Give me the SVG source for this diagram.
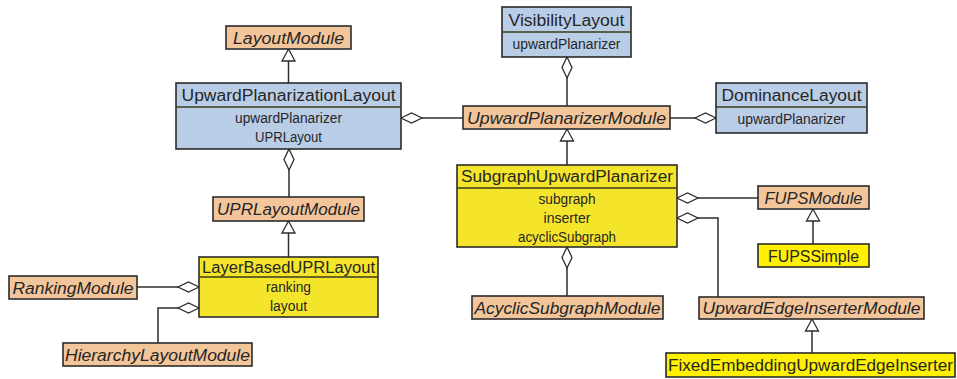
<svg xmlns="http://www.w3.org/2000/svg" width="957" height="379" viewBox="0 0 957 379">
  <defs>
    <style>
      .box { stroke: #2b2b2b; stroke-width: 1.6; }
      .mod { fill: #F3C59B; }
      .blue { fill: #B9CDE6; }
      .yel { fill: #F5E52A; }
      .yel2 { fill: #FFF100; }
      .div { stroke: #3a3a1a; stroke-width: 1.4; fill: none; }
      text { font-family: "Liberation Sans", Arial, sans-serif; fill: #262626; text-anchor: middle; dominant-baseline: central; }
      .t { font-size: 16px; }
      .i { font-size: 16px; font-style: italic; }
      .a { font-size: 14px; }
      .c { fill: none; stroke: #2e2e2e; stroke-width: 1.5; }
      .agg { marker-start: url(#diamond); }
      .gen { marker-end: url(#triangle); }
    </style>
    <!-- hollow diamond for aggregation, drawn at the owner end -->
    <marker id="diamond" markerUnits="userSpaceOnUse" viewBox="-1 -1 23 12" markerWidth="23" markerHeight="12" refX="0" refY="5" orient="auto" overflow="visible">
      <path d="M0,5 L10.5,0 L21,5 L10.5,10 Z" fill="#fff" stroke="#2e2e2e" stroke-width="1.3"/>
    </marker>
    <!-- hollow triangle for generalization, tip on the parent -->
    <marker id="triangle" markerUnits="userSpaceOnUse" viewBox="-1 -1 14 15" markerWidth="14" markerHeight="15" refX="12" refY="6.5" orient="auto" overflow="visible">
      <path d="M0,0 L12,6.5 L0,13 Z" fill="#fff" stroke="#2e2e2e" stroke-width="1.3"/>
    </marker>
  </defs>

  <g id="connectors">
    <!-- generalizations -->
    <path class="c gen" d="M288.5,83 V49"/>
    <path class="c gen" d="M288.5,257 V221"/>
    <path class="c gen" d="M567,165 V129"/>
    <path class="c gen" d="M813,244 V209"/>
    <path class="c gen" d="M812,353 V319"/>
    <!-- aggregations -->
    <path class="c agg" d="M289,149 V197"/>
    <path class="c agg" d="M401,118 H463"/>
    <path class="c agg" d="M567,57 V106"/>
    <path class="c agg" d="M716,118 H670"/>
    <path class="c agg" d="M567,247 V296"/>
    <path class="c agg" d="M677,198 H758"/>
    <path class="c agg" d="M677,218 H718 V297"/>
    <path class="c agg" d="M199,287 H137"/>
    <path class="c agg" d="M199,308 H158 V343"/>
  </g>

  <g id="LayoutModule">
    <rect class="box mod" x="226" y="26" width="125" height="23"/>
    <text class="i" x="288.5" y="38" textLength="111" lengthAdjust="spacingAndGlyphs">LayoutModule</text>
  </g>

  <g id="UpwardPlanarizationLayout">
    <rect class="box blue" x="176" y="83" width="225" height="66"/>
    <line class="div" x1="176" y1="107" x2="401" y2="107"/>
    <text class="t" x="288.5" y="95" textLength="214" lengthAdjust="spacingAndGlyphs">UpwardPlanarizationLayout</text>
    <text class="a" x="288.5" y="118" textLength="107" lengthAdjust="spacingAndGlyphs">upwardPlanarizer</text>
    <text class="a" x="288.5" y="137" textLength="67" lengthAdjust="spacingAndGlyphs">UPRLayout</text>
  </g>

  <g id="VisibilityLayout">
    <rect class="box blue" x="502" y="7" width="129" height="50"/>
    <line class="div" x1="502" y1="32" x2="631" y2="32"/>
    <text class="t" x="566.5" y="20" textLength="116" lengthAdjust="spacingAndGlyphs">VisibilityLayout</text>
    <text class="a" x="566.5" y="44" textLength="108" lengthAdjust="spacingAndGlyphs">upwardPlanarizer</text>
  </g>

  <g id="UpwardPlanarizerModule">
    <rect class="box mod" x="463" y="106" width="207" height="23"/>
    <text class="i" x="566.5" y="118" textLength="199" lengthAdjust="spacingAndGlyphs">UpwardPlanarizerModule</text>
  </g>

  <g id="DominanceLayout">
    <rect class="box blue" x="716" y="83" width="151" height="50"/>
    <line class="div" x1="716" y1="107" x2="867" y2="107"/>
    <text class="t" x="791.5" y="95" textLength="140" lengthAdjust="spacingAndGlyphs">DominanceLayout</text>
    <text class="a" x="791.5" y="119" textLength="108" lengthAdjust="spacingAndGlyphs">upwardPlanarizer</text>
  </g>

  <g id="UPRLayoutModule">
    <rect class="box mod" x="213" y="197" width="151" height="24"/>
    <text class="i" x="288.5" y="209.5" textLength="143" lengthAdjust="spacingAndGlyphs">UPRLayoutModule</text>
  </g>

  <g id="LayerBasedUPRLayout">
    <rect class="box yel" x="199" y="257" width="179" height="60"/>
    <line class="div" x1="199" y1="277" x2="378" y2="277"/>
    <text class="t" x="288.5" y="267" textLength="173" lengthAdjust="spacingAndGlyphs">LayerBasedUPRLayout</text>
    <text class="a" x="288.5" y="287" textLength="45" lengthAdjust="spacingAndGlyphs">ranking</text>
    <text class="a" x="288.5" y="306" textLength="37" lengthAdjust="spacingAndGlyphs">layout</text>
  </g>

  <g id="RankingModule">
    <rect class="box mod" x="9" y="276" width="128" height="23"/>
    <text class="i" x="73" y="288" textLength="121" lengthAdjust="spacingAndGlyphs">RankingModule</text>
  </g>

  <g id="HierarchyLayoutModule">
    <rect class="box mod" x="63" y="343" width="189" height="23"/>
    <text class="i" x="157.5" y="355" textLength="185" lengthAdjust="spacingAndGlyphs">HierarchyLayoutModule</text>
  </g>

  <g id="SubgraphUpwardPlanarizer">
    <rect class="box yel" x="457" y="165" width="220" height="82"/>
    <line class="div" x1="457" y1="188" x2="677" y2="188"/>
    <text class="t" x="567" y="176.5" textLength="212" lengthAdjust="spacingAndGlyphs">SubgraphUpwardPlanarizer</text>
    <text class="a" x="567" y="199" textLength="57" lengthAdjust="spacingAndGlyphs">subgraph</text>
    <text class="a" x="567" y="218" textLength="47" lengthAdjust="spacingAndGlyphs">inserter</text>
    <text class="a" x="567" y="237" textLength="98" lengthAdjust="spacingAndGlyphs">acyclicSubgraph</text>
  </g>

  <g id="AcyclicSubgraphModule">
    <rect class="box mod" x="472" y="296" width="191" height="23"/>
    <text class="i" x="567.5" y="308" textLength="186" lengthAdjust="spacingAndGlyphs">AcyclicSubgraphModule</text>
  </g>

  <g id="FUPSModule">
    <rect class="box mod" x="758" y="186" width="111" height="23"/>
    <text class="i" x="813.5" y="198" textLength="98" lengthAdjust="spacingAndGlyphs">FUPSModule</text>
  </g>

  <g id="FUPSSimple">
    <rect class="box yel2" x="758" y="244" width="111" height="23"/>
    <text class="t" x="813.5" y="256" textLength="91" lengthAdjust="spacingAndGlyphs">FUPSSimple</text>
  </g>

  <g id="UpwardEdgeInserterModule">
    <rect class="box mod" x="699" y="297" width="225" height="22"/>
    <text class="i" x="811.5" y="308.5" textLength="218" lengthAdjust="spacingAndGlyphs">UpwardEdgeInserterModule</text>
  </g>

  <g id="FixedEmbeddingUpwardEdgeInserter">
    <rect class="box yel2" x="666" y="353" width="289" height="24"/>
    <text class="t" x="810.5" y="365.5" textLength="285" lengthAdjust="spacingAndGlyphs">FixedEmbeddingUpwardEdgeInserter</text>
  </g>
</svg>
